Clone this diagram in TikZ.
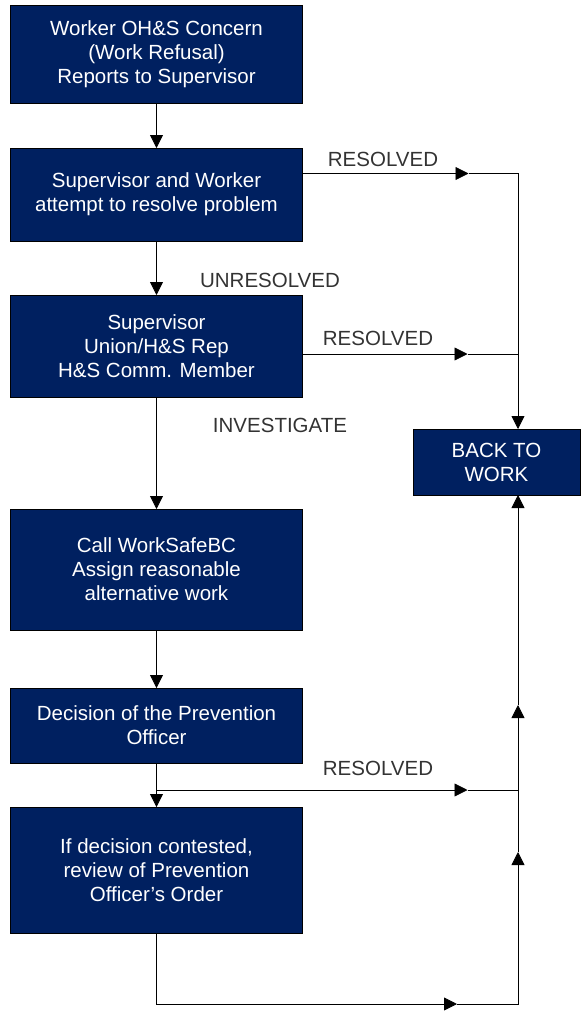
\documentclass[tikz,border=0pt]{standalone}
\usepackage{fontspec}
\setmainfont{Liberation Sans}
\usetikzlibrary{positioning, arrows.meta}

\definecolor{boxnavy}{RGB}{0,32,96}
\definecolor{lblgray}{RGB}{51,51,51}

\tikzset{
  stepbox/.style={draw=black, line width=0.8pt, fill=boxnavy, text=white,
    minimum width=292pt, align=center, inner sep=2pt, outer sep=0pt,
    font=\fontsize{20.5}{24}\selectfont},
  lbl/.style={text=lblgray, inner sep=0pt, font=\fontsize{20.5}{24}\selectfont},
  arr/.style={-{Triangle[length=13pt,width=13pt]}, line width=0.8pt},
  wire/.style={line width=0.8pt}
}

\begin{document}
\begin{tikzpicture}[x=1pt, y=1pt]
	\useasboundingbox (0,0) rectangle (581,-1012);
	\node[stepbox, minimum height=98pt] at (156.5,-54.5) (concern) {Worker OH\&S Concern\\(Work Refusal)\\Reports to Supervisor};
	\node[stepbox, minimum height=93pt, below=44.5pt of concern] (attempt) {Supervisor and Worker\\attempt to resolve problem};
	\node[stepbox, minimum height=102pt, below=54pt of attempt] (committee) {Supervisor\\Union/H\&S Rep\\H\&S Comm. Member};
	\node[stepbox, minimum height=121pt, below=112pt of committee] (worksafe) {Call WorkSafeBC\\Assign reasonable\\alternative work};
	\node[stepbox, minimum height=75pt, below=58pt of worksafe] (decision) {Decision of the Prevention\\Officer};
	\node[stepbox, minimum height=126pt, below=44pt of decision] (appeal) {If decision contested,\\review of Prevention\\Officer's Order};
	\node[stepbox, minimum width=167pt, minimum height=66pt] at (496.5,-462) (back) {BACK TO\\WORK};
	% main line
	\draw[arr] (concern) -- (attempt);
	\draw[arr] (attempt) -- (committee);
	\draw[arr] (committee) -- (worksafe);
	\draw[arr] (worksafe) -- (decision);
	\draw[arr] (decision) -- (appeal);
	% resolved branches
	\coordinate (bus) at ([xshift=21.5pt]back.north);
	\coordinate (busin) at ([xshift=21.5pt]back.south);
	\draw[arr] ([yshift=21pt]attempt.east) -- ++(166pt,0) coordinate (r1);
	\draw[arr] (r1) -| (bus);
	\draw[arr] ([yshift=-8pt]committee.east) -- ++(165pt,0) coordinate (r2);
	\draw[wire] (r2) -- (r2 -| bus);
	\coordinate (split) at ([yshift=-27pt]decision.south);
	\draw[arr] (split) -- ++(311pt,0) coordinate (r3);
	\draw[wire] (r3) -- (r3 -| bus);
	% back from the review
	\draw[arr] (appeal.south) |- ++(300.5pt,-71pt) coordinate (r4);
	\draw[arr] (r4) -| (518,-852) coordinate (u1);
	\draw[arr] (u1) -- ++(0,147pt) coordinate (u2);
	\draw[arr] (u2) -- (busin);
	% labels
	\node[lbl] at (383,-159) (res1) {RESOLVED};
	\node[lbl] at (270,-280) (unres) {UNRESOLVED};
	\node[lbl] at (378,-338) (res2) {RESOLVED};
	\node[lbl] at (280,-425) (invest) {INVESTIGATE};
	\node[lbl] at (378,-768) (res3) {RESOLVED};
\end{tikzpicture}
\end{document}
